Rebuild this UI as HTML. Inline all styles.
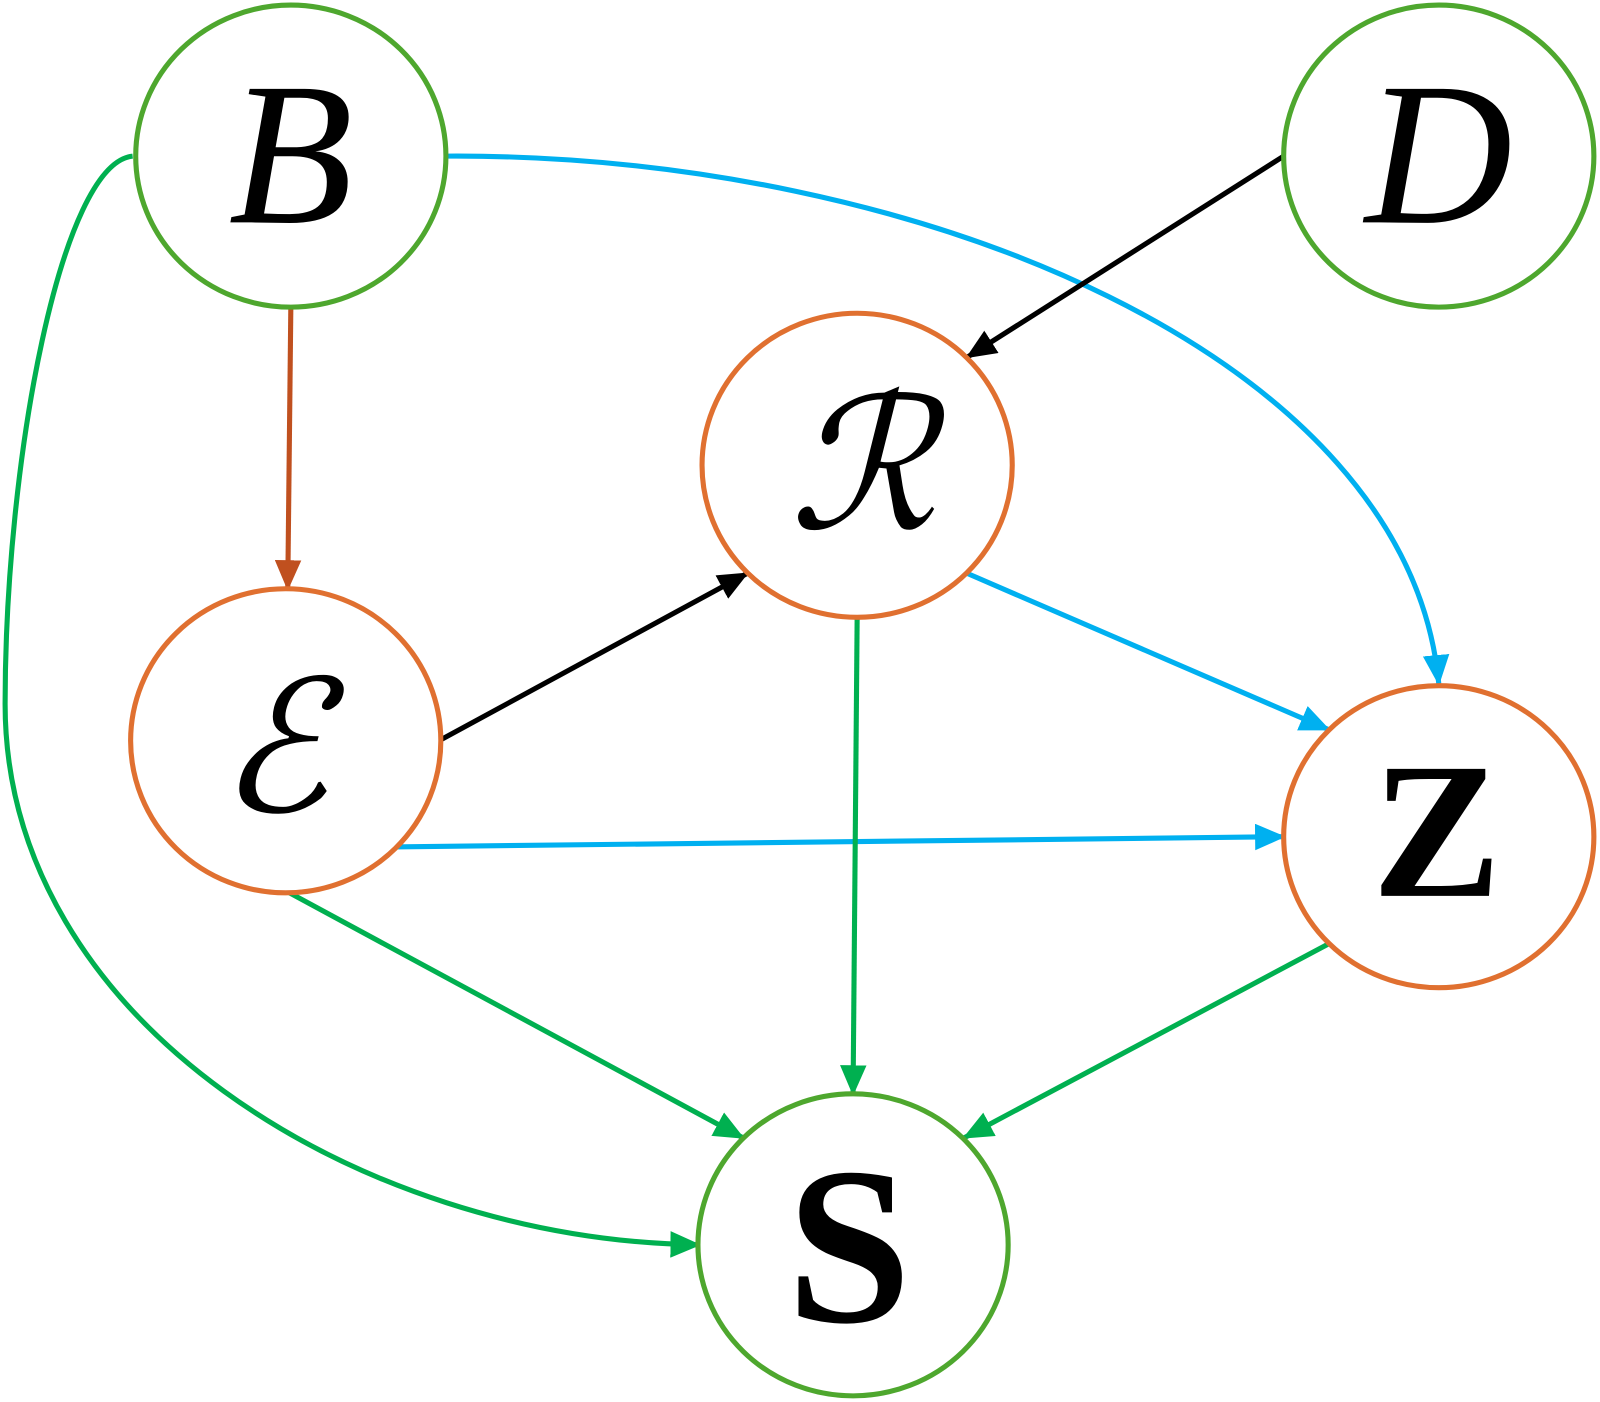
<!DOCTYPE html>
<html><head><meta charset="utf-8"><style>html,body{margin:0;padding:0;background:#fff}svg{display:block}</style></head>
<body>
<svg width="1600" height="1402" viewBox="0 0 1568 1374" preserveAspectRatio="none" xmlns="http://www.w3.org/2000/svg">
<defs>
<marker id="mk" markerWidth="30" markerHeight="26" refX="28" refY="13" orient="auto" markerUnits="userSpaceOnUse"><path d="M0,0 L30,13 L0,26 z" fill="#000"/></marker>
<marker id="mg" markerWidth="30" markerHeight="26" refX="28" refY="13" orient="auto" markerUnits="userSpaceOnUse"><path d="M0,0 L30,13 L0,26 z" fill="#00b050"/></marker>
<marker id="mb" markerWidth="30" markerHeight="26" refX="28" refY="13" orient="auto" markerUnits="userSpaceOnUse"><path d="M0,0 L30,13 L0,26 z" fill="#00b0f0"/></marker>
<marker id="mr" markerWidth="30" markerHeight="26" refX="28" refY="13" orient="auto" markerUnits="userSpaceOnUse"><path d="M0,0 L30,13 L0,26 z" fill="#c0501f"/></marker>
</defs>
<g fill="none" stroke-width="5">
<path d="M285,302 L282,577" stroke="#c0501f" marker-end="url(#mr)"/>
<path d="M130,153 C60,160 5,450 5,690 C5,1000 350,1215 685,1220" stroke="#00b050" marker-end="url(#mg)"/>
<path d="M437,153 C900,150 1380,350 1410,670" stroke="#00b0f0" marker-end="url(#mb)"/>
<path d="M1258,153 L948,350" stroke="#000" marker-end="url(#mk)"/>
<path d="M432,725 L732,562" stroke="#000" marker-end="url(#mk)"/>
<path d="M948,562 L1302,715" stroke="#00b0f0" marker-end="url(#mb)"/>
<path d="M385,830 L1258,820" stroke="#00b0f0" marker-end="url(#mb)"/>
<path d="M840,606 L836,1072" stroke="#00b050" marker-end="url(#mg)"/>
<path d="M280,873 L728,1115" stroke="#00b050" marker-end="url(#mg)"/>
<path d="M1302,925 L945,1115" stroke="#00b050" marker-end="url(#mg)"/>
</g>
<g fill="#fff" stroke-width="5">
<ellipse cx="285" cy="153" rx="152" ry="148" stroke="#4ea72e"/>
<ellipse cx="1410" cy="153" rx="152" ry="148" stroke="#4ea72e"/>
<ellipse cx="840" cy="456" rx="152" ry="149" stroke="#e07030"/>
<ellipse cx="280" cy="726" rx="152" ry="149" stroke="#e07030"/>
<ellipse cx="1410" cy="820" rx="152" ry="148" stroke="#e07030"/>
<ellipse cx="836" cy="1220" rx="152" ry="148" stroke="#4ea72e"/>
</g>
<g font-family="'Liberation Serif','DejaVu Serif',serif" text-anchor="middle" fill="#000">
<text x="285" y="218" font-size="200" font-style="italic">B</text>
<text x="1410" y="218" font-size="200" font-style="italic">D</text>
<text x="845" y="518" font-size="180" font-style="italic" font-family="'DejaVu Serif','Liberation Serif',serif">ℛ</text>
<text x="268" y="795" font-size="180" font-style="italic" font-family="'DejaVu Serif','Liberation Serif',serif">ℰ</text>
<text x="1408" y="878" font-size="190" font-weight="bold">Z</text>
<text x="832" y="1295" font-size="220" font-weight="bold">S</text>
</g>
</svg>
</body></html>
